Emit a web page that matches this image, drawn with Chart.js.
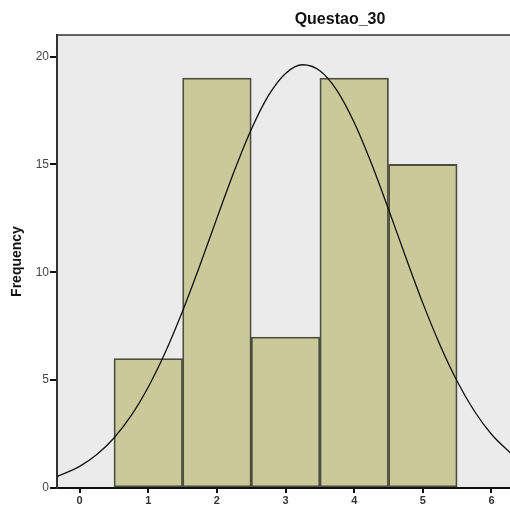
<!DOCTYPE html>
<html>
<head>
<meta charset="utf-8">
<script src="https://cdn.jsdelivr.net/npm/chart.js@4"></script>
<style>
  body { margin: 0; background: #fff; }
  #wrap { width: 510px; height: 508px; }
</style>
</head>
<body>
<div id="wrap"><canvas id="hist"></canvas></div>
<script>
// histogram counts for Questao_30
const answers = [1, 2, 3, 4, 5];
const frequency = [6, 19, 7, 19, 15];

// normal curve
const curveX = [-0.33, 0, 0.25, 0.5, 0.75, 1, 1.25, 1.5, 1.75, 2, 2.25, 2.5, 2.75, 3, 3.25,
  3.5, 3.75, 4, 4.25, 4.5, 4.75, 5, 5.25, 5.5, 5.75, 6, 6.3];
const curveY = [0.53, 1.0, 1.55, 2.32, 3.35, 4.68, 6.3, 8.2, 10.3, 12.51, 14.67, 16.62, 18.19, 19.22, 19.62,
  19.34, 18.42, 16.94, 15.05, 12.92, 10.71, 8.57, 6.63, 4.95, 3.57, 2.49, 1.55];

const xTicks = [0, 1, 2, 3, 4, 5, 6];
const yTicks = [0, 5, 10, 15, 20];

const font = "'Liberation Sans', Arial, sans-serif";

// gray plot background + top border + title
const backdrop = {
  id: "backdrop",
  beforeDraw(chart) {
    const { ctx, chartArea: a } = chart;
    ctx.save();
    ctx.fillStyle = "#ebebeb";
    ctx.fillRect(a.left, a.top, a.right - a.left, a.bottom - a.top);
    ctx.restore();
  },
  afterDraw(chart) {
    const { ctx, chartArea: a } = chart;
    ctx.save();
    ctx.strokeStyle = "#333";
    ctx.lineWidth = 1.5;
    ctx.beginPath();
    ctx.moveTo(a.left, a.top);
    ctx.lineTo(a.right, a.top);
    ctx.stroke();
    ctx.fillStyle = "#111";
    ctx.font = "bold 16px " + font;
    ctx.textAlign = "center";
    ctx.textBaseline = "middle";
    ctx.fillText("Questao_30", 340, 20);
    ctx.restore();
  }
};

document.addEventListener("DOMContentLoaded", function () {
  const ctx = document.getElementById("hist").getContext("2d");
  new Chart(ctx, {
    type: "bar",
    data: {
      datasets: [
        {
          type: "line",
          data: curveX.map((x, i) => ({ x: x, y: curveY[i] })),
          borderColor: "#111",
          borderWidth: 1.3,
          pointRadius: 0,
          cubicInterpolationMode: "monotone",
          order: 1
        },
        {
          type: "bar",
          data: answers.map((a, i) => ({ x: a, y: frequency[i] })),
          backgroundColor: "#cac999",
          borderColor: "#4d4d40",
          borderWidth: 1.8,
          borderSkipped: false,
          barPercentage: 1,
          categoryPercentage: 1,
          order: 2
        }
      ]
    },
    options: {
      responsive: true,
      maintainAspectRatio: false,
      animation: false,
      layout: { padding: { top: 35, left: 0, right: 0, bottom: 0 } },
      plugins: {
        legend: { display: false },
        tooltip: { enabled: false }
      },
      scales: {
        x: {
          type: "linear",
          offset: false,
          min: -0.33,
          max: 6.27,
          afterFit(scale) { scale.height = 20; },
          afterBuildTicks(scale) { scale.ticks = xTicks.map(v => ({ value: v })); },
          grid: { offset: false, drawOnChartArea: false, drawTicks: true, tickLength: 5, color: "#111", lineWidth: 2 },
          border: { display: true, color: "#111", width: 2 },
          ticks: { color: "#333", padding: 1, font: { family: font, size: 11, weight: "bold" } }
        },
        y: {
          min: 0,
          max: 21,
          afterFit(scale) { scale.width = 57; },
          afterBuildTicks(scale) { scale.ticks = yTicks.map(v => ({ value: v })); },
          grid: { drawOnChartArea: false, drawTicks: true, tickLength: 7, color: "#111", lineWidth: 2 },
          border: { display: true, color: "#333", width: 2 },
          ticks: { color: "#444", padding: 1, font: { family: font, size: 12 } },
          title: {
            display: true,
            text: "Frequency",
            color: "#111",
            padding: { top: 9, bottom: 0 },
            font: { family: font, size: 14, weight: "bold" }
          }
        }
      }
    },
    plugins: [backdrop]
  });
});
</script>
</body>
</html>
